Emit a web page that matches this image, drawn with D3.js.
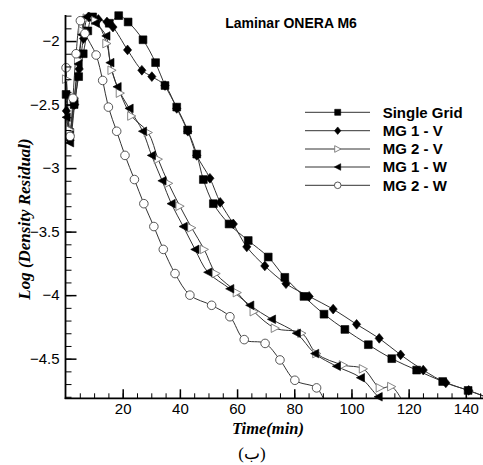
<!DOCTYPE html>
<html><head><meta charset="utf-8">
<script src="https://cdn.jsdelivr.net/npm/d3@7"></script>
<style>body{margin:0;background:#fff} svg{display:block}</style>
</head><body><svg id="c" width="483" height="465"></svg>
<script>
// ---------- data (time in min, log density residual) ----------
const seriesNames = ["Single Grid", "MG 1 - V", "MG 2 - V", "MG 1 - W", "MG 2 - W"];
const singleGrid = [[0.2,-2.42],[1.5,-2.72],[3.0,-2.50],[4.6,-2.28],[6.2,-2.10],[7.8,-1.92],[9.5,-1.81],[15.3,-1.86],[18.6,-1.80],[21.9,-1.85],[27.1,-1.99],[31.5,-2.17],[34.8,-2.35],[38.9,-2.52],[42.7,-2.70],[45.9,-2.89],[48.2,-3.09],[51.7,-3.28],[57.2,-3.44],[63.9,-3.57],[70.9,-3.70],[76.7,-3.86],[83.4,-4.01],[90.4,-4.15],[97.7,-4.27],[105.9,-4.39],[114.1,-4.50],[122.8,-4.59],[131.9,-4.68],[140.8,-4.75],[148,-4.81]];
const mg1V = [[0.3,-2.55],[1.6,-2.78],[3.2,-2.50],[4.8,-2.22],[6.3,-1.98],[8.0,-1.81],[11.5,-1.83],[14.5,-1.85],[16.6,-1.89],[21.7,-2.07],[26.7,-2.23],[30.2,-2.28],[34.8,-2.35],[38.9,-2.53],[42.8,-2.71],[45.9,-2.90],[50.5,-3.08],[54.1,-3.27],[58.7,-3.44],[63.4,-3.62],[69.7,-3.77],[77.1,-3.91],[85.2,-4.01],[93.6,-4.11],[101.8,-4.23],[109.7,-4.34],[117.2,-4.47],[125.1,-4.59],[133.0,-4.69],[141.0,-4.75],[148,-4.81]];
const mg2V = [[0.3,-2.30],[1.5,-2.70],[3.0,-2.45],[4.5,-2.15],[6.0,-1.92],[7.5,-1.82],[10.5,-1.84],[14.4,-2.02],[16.2,-2.23],[19.1,-2.41],[23.1,-2.59],[28.9,-2.72],[32.4,-2.93],[36.0,-3.12],[40.0,-3.30],[44.1,-3.47],[48.5,-3.64],[52.6,-3.83],[60.0,-3.98],[65.9,-4.13],[73.3,-4.26],[82.6,-4.30],[87.8,-4.46],[97.1,-4.55],[104.1,-4.58],[110.0,-4.73],[114.0,-4.72],[117.5,-4.82]];
const mg1W = [[0.3,-2.60],[1.5,-2.80],[3.0,-2.48],[4.5,-2.18],[5.8,-1.95],[7.2,-1.81],[10.5,-1.86],[14.2,-1.96],[15.6,-2.17],[18.1,-2.36],[22.3,-2.53],[27.0,-2.71],[30.1,-2.90],[33.8,-3.10],[37.0,-3.28],[41.2,-3.46],[45.3,-3.64],[49.8,-3.82],[57.5,-3.95],[64.5,-4.08],[72.1,-4.19],[80.8,-4.30],[87.2,-4.46],[94.8,-4.56],[103.2,-4.65],[109.4,-4.80],[112.0,-4.84]];
const mg2W = [[0.2,-2.21],[1.6,-2.75],[2.6,-2.45],[3.7,-2.10],[5.2,-1.84],[6.8,-1.94],[10.7,-2.11],[13.0,-2.31],[15.0,-2.52],[17.9,-2.71],[20.8,-2.90],[24.1,-3.09],[27.4,-3.28],[30.9,-3.46],[34.2,-3.64],[38.3,-3.83],[43.5,-4.00],[51.1,-4.08],[57.5,-4.17],[62.5,-4.35],[69.8,-4.38],[75.0,-4.51],[80.2,-4.67],[87.8,-4.73],[90.5,-4.83]];
const seriesData = [singleGrid, mg1V, mg2V, mg1W, mg2W];
const markerTypes = ["square", "diamond", "triRightOpen", "triLeft", "circleOpen"];
const xTicks = [20, 40, 60, 80, 100, 120, 140];
const yTicks = [-2, -2.5, -3, -3.5, -4, -4.5];
const xDomain = [0, 146];
const yDomain = [-4.812, -1.795];
const titleText = "Laminar ONERA M6";
const xLabel = "Time(min)";
const yLabel = "Log (Density Residual)";
const captionText = "(ب)";

// ---------- layout ----------
const L = 65.5, R = 483, T = 15, B = 398.3;
const svg = d3.select("#c");
const x = d3.scaleLinear().domain(xDomain).range([L, R]);
const y = d3.scaleLinear().domain(yDomain).range([B, T]);
const sans = "'Liberation Sans', Arial, sans-serif";
const serif = "'Liberation Serif', 'Times New Roman', serif";

svg.append("defs").append("clipPath").attr("id", "clip")
  .append("rect").attr("x", L).attr("y", T - 2).attr("width", R - L).attr("height", B - T + 2);

function markerPath(type, s) {
  switch (type) {
    case "square": return `M${-s},${-s}h${2*s}v${2*s}h${-2*s}Z`;
    case "diamond": return `M0,${-s*1.25}L${s*1.05},0L0,${s*1.25}L${-s*1.05},0Z`;
    case "triRightOpen": return `M${-s},${-s*1.1}L${s*1.1},0L${-s},${s*1.1}Z`;
    case "triLeft": return `M${s},${-s*1.1}L${-s*1.1},0L${s},${s*1.1}Z`;
    default: return null;
  }
}
function drawMarker(g, type, cx, cy, s) {
  if (type === "circleOpen") {
    g.append("circle").attr("cx", cx).attr("cy", cy).attr("r", s * 1.1)
      .attr("fill", "#fff").attr("stroke", "#444").attr("stroke-width", 0.9);
  } else {
    const open = type === "triRightOpen";
    g.append("path").attr("transform", `translate(${cx},${cy})`).attr("d", markerPath(type, s))
      .attr("fill", open ? "#fff" : "#000").attr("stroke", open ? "#777" : "#000")
      .attr("stroke-width", open ? 0.9 : 0.6);
  }
}

// ---------- lines ----------
const line = d3.line().x(d => x(d[0])).y(d => y(d[1])).curve(d3.curveCatmullRom.alpha(0.5));
const plot = svg.append("g").attr("clip-path", "url(#clip)");
seriesData.forEach((data, i) => {
  plot.append("path").datum(data).attr("d", line)
    .attr("fill", "none").attr("stroke", "#333").attr("stroke-width", 1);
});
// ---------- markers ----------
const mk = svg.append("g");
seriesData.forEach((data, i) => {
  data.filter(d => d[0] <= xDomain[1] && d[1] >= yDomain[0]).forEach(d => {
    drawMarker(mk, markerTypes[i], x(d[0]), y(d[1]), 3.9);
  });
});

// ---------- axes ----------
const axCol = "#000";
const yMinor = d3.range(-4.8, -1.79, 0.1).map(v => Math.round(v * 10) / 10);
const xMinor = d3.range(5, 146, 5);
svg.append("g").attr("transform", `translate(${L},0)`)
  .call(d3.axisLeft(y).tickValues(yMinor).tickSize(-6).tickSizeOuter(0).tickFormat(""))
  .call(g => g.select(".domain").remove())
  .call(g => g.selectAll("line").attr("stroke", axCol).attr("stroke-width", 1));
svg.append("g").attr("transform", `translate(0,${B})`)
  .call(d3.axisBottom(x).tickValues(xMinor).tickSize(-5).tickSizeOuter(0).tickFormat(""))
  .call(g => g.select(".domain").remove())
  .call(g => g.selectAll("line").attr("stroke", axCol).attr("stroke-width", 1));

const yAx = svg.append("g").attr("transform", `translate(${L},0)`)
  .call(d3.axisLeft(y).tickValues(yTicks).tickSize(-11).tickSizeOuter(0).tickPadding(6)
    .tickFormat(d => d3.format("")(d)));
yAx.selectAll("text").attr("font-family", sans).attr("font-size", 15).attr("fill", "#000");
yAx.selectAll("line").attr("stroke", axCol).attr("stroke-width", 1.5);
yAx.select(".domain").remove();

const xAx = svg.append("g").attr("transform", `translate(0,${B})`)
  .call(d3.axisBottom(x).tickValues(xTicks).tickSize(-9).tickSizeOuter(0).tickPadding(5));
xAx.selectAll("text").attr("font-family", sans).attr("font-size", 15).attr("fill", "#000");
xAx.selectAll("line").attr("stroke", axCol).attr("stroke-width", 1.5);
xAx.select(".domain").remove();

svg.append("line").attr("x1", L).attr("x2", L).attr("y1", T).attr("y2", B + 0.8)
  .attr("stroke", axCol).attr("stroke-width", 1.8);
svg.append("line").attr("x1", L - 0.8).attr("x2", R).attr("y1", B).attr("y2", B)
  .attr("stroke", axCol).attr("stroke-width", 1.8);

// ---------- texts ----------
svg.append("text").attr("x", 291).attr("y", 28).attr("text-anchor", "middle")
  .attr("font-family", sans).attr("font-weight", "bold").attr("font-size", 14).text(titleText);
svg.append("text").attr("x", 268).attr("y", 434).attr("text-anchor", "middle")
  .attr("font-family", serif).attr("font-weight", "bold").attr("font-style", "italic")
  .attr("font-size", 16.5).text(xLabel);
svg.append("text").attr("transform", "translate(30,219) rotate(-90)").attr("text-anchor", "middle")
  .attr("font-family", serif).attr("font-weight", "bold").attr("font-style", "italic")
  .attr("font-size", 17).text(yLabel);
svg.append("text").attr("x", 252).attr("y", 459).attr("text-anchor", "middle")
  .attr("font-family", serif).attr("font-size", 17).text(captionText);

// ---------- legend ----------
const legY = [112.3, 130.7, 149, 167, 185.3];
const leg = svg.append("g");
seriesNames.forEach((name, i) => {
  leg.append("line").attr("x1", 305).attr("x2", 370).attr("y1", legY[i]).attr("y2", legY[i])
    .attr("stroke", "#333").attr("stroke-width", 1);
  drawMarker(leg, markerTypes[i], 337.7, legY[i], 3);
  leg.append("text").attr("x", 382.7).attr("y", legY[i]).attr("dy", "0.36em")
    .attr("font-family", sans).attr("font-weight", "bold").attr("font-size", 15).text(name);
});
</script></body></html>
